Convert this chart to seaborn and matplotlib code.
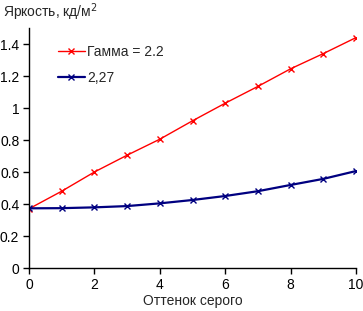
import matplotlib
matplotlib.use("Agg")
import matplotlib.pyplot as plt
import seaborn as sns
import pandas as pd

shade = [0, 1, 2, 3, 4, 5, 6, 7, 8, 9, 10]
gamma_22 = [0.37, 0.48, 0.60, 0.705, 0.805, 0.92, 1.03, 1.135, 1.245, 1.34, 1.44]
gamma_227 = [0.373, 0.374, 0.379, 0.387, 0.404, 0.425, 0.45, 0.48, 0.519, 0.557, 0.606]
series_names = ["Гамма = 2.2", "2,27"]

df = pd.DataFrame({
    "shade": shade * 2,
    "value": gamma_22 + gamma_227,
    "series": [series_names[0]] * len(shade) + [series_names[1]] * len(shade),
})

sns.set_style("white")
plt.rcParams["font.family"] = ["Liberation Sans", "DejaVu Sans"]
plt.rcParams["font.size"] = 10

fig = plt.figure(figsize=(3.63, 3.11), dpi=100)
ax = fig.add_axes([29 / 363, 43 / 311, 327 / 363, 240 / 311])

sns.lineplot(data=df, x="shade", y="value", hue="series", style="series",
             palette={series_names[0]: "#ff0000", series_names[1]: "#000080"},
             markers={series_names[0]: "x", series_names[1]: "x"},
             dashes=False, markersize=5, ax=ax)
for line, lw in zip(ax.get_lines(), [1.0, 1.6]):
    line.set_linewidth(lw)
    line.set_markeredgecolor(line.get_color())
    line.set_markeredgewidth(1.0)

ax.set_xlim(0, 10)
ax.set_ylim(0, 1.5)
ax.set_xticks([0, 2, 4, 6, 8, 10])
ax.set_yticks([0, 0.2, 0.4, 0.6, 0.8, 1.0, 1.2, 1.4])
ax.set_yticklabels(["0", "0.2", "0.4", "0.6", "0.8", "1", "1.2", "1.4"])
ax.tick_params(axis="both", direction="out", length=4, width=1, colors="black",
               labelsize=10, left=True, bottom=True, pad=3)
for side in ["top", "right"]:
    ax.spines[side].set_visible(False)
for side in ["left", "bottom"]:
    ax.spines[side].set_color("black")
    ax.spines[side].set_linewidth(1)

ax.set_xlabel("Оттенок серого", fontsize=10, labelpad=2)
ax.set_ylabel("")
fig.text(3 / 363, 1 - 12 / 311, "Яркость, кд/м$^2$", fontsize=10, va="center", ha="left")

leg = ax.legend(loc="upper left", bbox_to_anchor=(0.049, 0.982), frameon=False,
                fontsize=10, handlelength=1.95, labelspacing=0.9, handletextpad=0.2)
for h, lw in zip(leg.legend_handles, [1.0, 1.6]):
    h.set_linewidth(lw)
    h.set_markeredgecolor(h.get_color())
    h.set_markeredgewidth(1.0)

fig.savefig("out.png", dpi=100)
